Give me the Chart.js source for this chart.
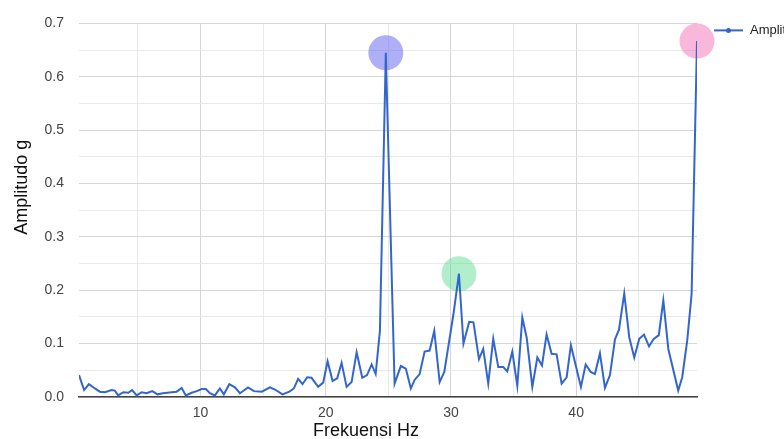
<!DOCTYPE html>
<html>
<head>
<meta charset="utf-8">
<style>
  html, body { margin: 0; padding: 0; background: #fff; }
  #wrap { width: 784px; height: 439px; position: relative; }
</style>
<script src="https://cdn.jsdelivr.net/npm/chart.js@4/dist/chart.umd.min.js"></script>
</head>
<body>
<div id="wrap"><canvas id="c" width="784" height="439"></canvas></div>
<script>
// Spectrum vertices: frequency (Hz) and amplitude (g)
const freqHz = [
  0.3, 0.71, 1.09, 1.57, 1.96, 2.37, 2.9, 3.16, 3.43, 3.83,
  4.23, 4.55, 4.9, 5.3, 5.7, 6.15, 6.57, 7.0, 7.7, 8.1,
  8.5, 8.83, 9.3, 9.7, 10.1, 10.43, 10.75, 11.15, 11.55, 11.87,
  12.3, 12.75, 13.15, 13.8, 14.27, 14.9, 15.55, 15.95, 16.55, 17.1,
  17.46, 17.8, 18.15, 18.52, 18.87, 19.4, 19.8, 20.15, 20.55, 20.92,
  21.27, 21.67, 22.07, 22.47, 22.92, 23.3, 23.67, 23.99, 24.33, 24.8,
  25.5, 26.0, 26.4, 26.8, 27.1, 27.5, 27.9, 28.3, 28.67, 29.1,
  29.47, 30.2, 30.64, 31.0, 31.46, 31.8, 32.24, 32.58, 32.98, 33.38,
  33.78, 34.18, 34.5, 34.9, 35.3, 35.7, 36.05, 36.5, 36.9, 37.27,
  37.64, 38.04, 38.44, 38.84, 39.24, 39.58, 40.38, 40.76, 41.16, 41.5,
  41.9, 42.3, 42.7, 43.1, 43.42, 43.84, 44.24, 44.64, 45.04, 45.42,
  45.82, 46.2, 46.6, 46.96, 47.36, 48.15, 48.47, 48.87, 49.22, 49.65
];
const amplitudeG = [
  0.041, 0.013, 0.024, 0.016, 0.010, 0.009, 0.013, 0.012, 0.003, 0.009,
  0.008, 0.013, 0.003, 0.009, 0.007, 0.011, 0.005, 0.007, 0.009, 0.010,
  0.017, 0.003, 0.008, 0.011, 0.015, 0.015, 0.007, 0.003, 0.016, 0.005,
  0.024, 0.018, 0.007, 0.018, 0.011, 0.010, 0.018, 0.014, 0.005, 0.010,
  0.016, 0.034, 0.024, 0.037, 0.036, 0.019, 0.027, 0.067, 0.030, 0.035,
  0.064, 0.019, 0.028, 0.084, 0.036, 0.041, 0.061, 0.043, 0.124, 0.645,
  0.025, 0.058, 0.053, 0.016, 0.032, 0.043, 0.085, 0.087, 0.124, 0.028,
  0.047, 0.155, 0.231, 0.100, 0.141, 0.140, 0.071, 0.090, 0.025, 0.109,
  0.056, 0.056, 0.048, 0.085, 0.021, 0.149, 0.111, 0.019, 0.074, 0.059,
  0.117, 0.081, 0.080, 0.025, 0.037, 0.097, 0.019, 0.061, 0.047, 0.043,
  0.082, 0.017, 0.041, 0.108, 0.126, 0.194, 0.112, 0.074, 0.109, 0.117,
  0.095, 0.109, 0.116, 0.181, 0.090, 0.012, 0.037, 0.106, 0.193, 0.667
];

// Highlighted peaks (indices into the arrays above) and their colours
const peakIndex = [59, 72, 119];
const peakColors = ['rgba(95,95,242,0.5)', 'rgba(70,215,130,0.42)', 'rgba(242,95,178,0.45)'];

// Axis ticks
const xTickLabels = [10, 20, 30, 40];
const yTickLabels = [0.0, 0.1, 0.2, 0.3, 0.4, 0.5, 0.6, 0.7];

const seriesName = 'Amplitudo g';
const xTitle = 'Frekuensi Hz';
const yTitle = 'Amplitudo g';

const lineColor = '#3366cc';
const FONT = '"Liberation Sans", Arial, sans-serif';

const points = freqHz.map((f, i) => ({ x: f, y: amplitudeG[i] }));
const peaks = peakIndex.map(i => ({ x: freqHz[i], y: amplitudeG[i] }));

// Axis titles and the right-hand legend
const decorations = {
  id: 'decorations',
  afterDraw(chart) {
    const { ctx, chartArea } = chart;
    ctx.save();
    // x title
    ctx.fillStyle = '#111';
    ctx.font = '18px ' + FONT;
    ctx.textAlign = 'center';
    ctx.textBaseline = 'alphabetic';
    ctx.fillText(xTitle, (chartArea.left + chartArea.right) / 2 - 22, 436);
    // y title
    ctx.save();
    ctx.translate(chartArea.left - 52, (chartArea.top + chartArea.bottom) / 2 - 23);
    ctx.rotate(-Math.PI / 2);
    ctx.fillText(yTitle, 0, 0);
    ctx.restore();
    // legend
    const lx = chartArea.right + 17, ly = chartArea.top + 7;
    ctx.strokeStyle = lineColor;
    ctx.lineWidth = 2;
    ctx.beginPath();
    ctx.moveTo(lx, ly);
    ctx.lineTo(lx + 29, ly);
    ctx.stroke();
    ctx.fillStyle = lineColor;
    ctx.beginPath();
    ctx.arc(lx + 14.5, ly, 2.5, 0, Math.PI * 2);
    ctx.fill();
    ctx.fillStyle = '#222';
    ctx.font = '13px ' + FONT;
    ctx.textAlign = 'left';
    ctx.textBaseline = 'middle';
    ctx.fillText(seriesName, lx + 36, ly);
    ctx.restore();
  }
};

const isMajorY = v => Math.round(v * 100) % 10 === 0;
const isMajorX = v => Math.round(v) % 10 === 0;

new Chart(document.getElementById('c'), {
  type: 'line',
  data: {
    datasets: [
      {
        label: seriesName,
        data: points,
        borderColor: lineColor,
        borderWidth: 2,
        pointRadius: 0,
        tension: 0,
        fill: false,
        order: 1
      },
      {
        label: 'peaks',
        data: peaks,
        showLine: false,
        clip: false,
        pointRadius: 17.5,
        pointBorderWidth: 0,
        pointBackgroundColor: peakColors,
        pointBorderColor: 'rgba(0,0,0,0)',
        order: 2
      }
    ]
  },
  options: {
    responsive: false,
    animation: false,
    events: [],
    layout: { padding: { top: 20, right: 87, left: 0, bottom: 0 } },
    plugins: { legend: { display: false }, tooltip: { enabled: false } },
    scales: {
      x: {
        type: 'linear',
        min: freqHz[0],
        max: freqHz[freqHz.length - 1],
        afterBuildTicks(scale) {
          scale.ticks = [];
          for (let v = 5; v < scale.max; v += 5) scale.ticks.push({ value: v });
        },
        afterFit(scale) { scale.height = 42; },
        ticks: {
          autoSkip: false,
          maxRotation: 0,
          padding: 8,
          color: '#444',
          font: { family: FONT, size: 14 },
          callback: v => (xTickLabels.includes(Math.round(v)) && isMajorX(v)) ? String(Math.round(v)) : ''
        },
        grid: {
          drawTicks: false,
          color: ctx => (ctx.tick && isMajorX(ctx.tick.value)) ? '#d6d6d6' : '#e9e9e9',
          lineWidth: 1
        },
        border: { display: true, color: '#444', width: 1.5 }
      },
      y: {
        min: 0,
        max: 0.7,
        afterFit(scale) { scale.width = 79; },
        ticks: {
          stepSize: 0.05,
          autoSkip: false,
          padding: 15,
          color: '#444',
          font: { family: FONT, size: 14 },
          callback: v => isMajorY(v) ? yTickLabels[Math.round(v * 10)].toFixed(1) : ''
        },
        grid: {
          drawTicks: false,
          color: ctx => (ctx.tick && isMajorY(ctx.tick.value)) ? '#d6d6d6' : '#e9e9e9',
          lineWidth: 1
        },
        border: { display: false }
      }
    }
  },
  plugins: [decorations]
});
</script>
</body>
</html>
